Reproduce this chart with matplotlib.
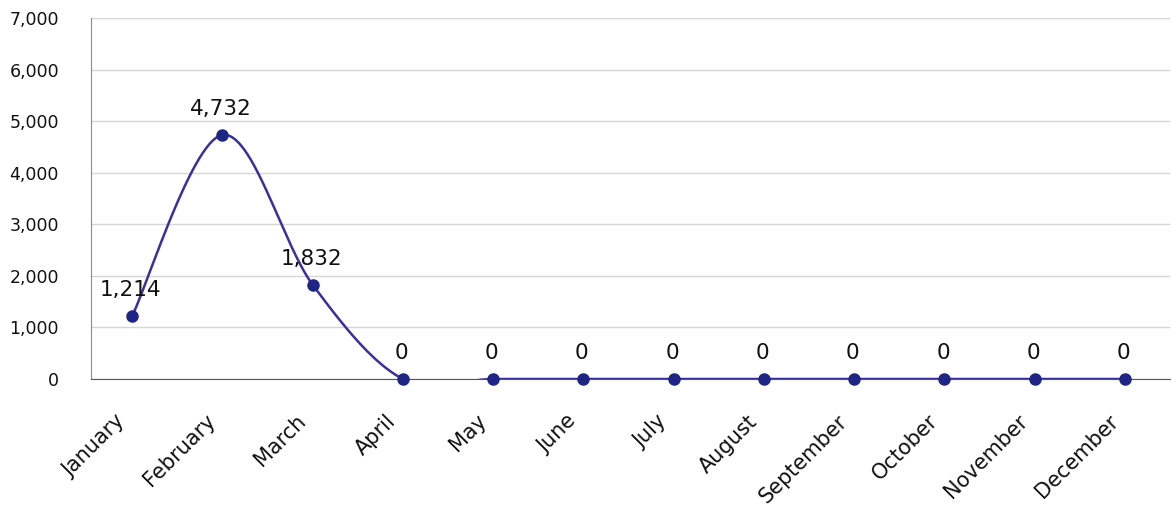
import numpy as np
import matplotlib
matplotlib.use("Agg")
import matplotlib.pyplot as plt
import matplotlib.transforms as mtransforms
from matplotlib.ticker import FuncFormatter, MultipleLocator

months = ["January", "February", "March", "April", "May", "June", "July",
          "August", "September", "October", "November", "December"]
values = [1214, 4732, 1832, 0, 0, 0, 0, 0, 0, 0, 0, 0]
label_texts = ["1,214", "4,732", "1,832", "0", "0", "0", "0", "0", "0", "0", "0", "0"]

plt.rcParams['font.family'] = ['DejaVu Sans']

fig = plt.figure(figsize=(11.72, 5.12), dpi=100)
ax = fig.add_axes([91/1172, 133/512, 1079/1172, 361/512])
XMIN, XMAX = -0.454, 11.5
YMIN, YMAX = 0, 7000
ax.set_xlim(XMIN, XMAX)
ax.set_ylim(YMIN, YMAX)

x = np.arange(len(months), dtype=float)
y = np.array(values, dtype=float)

# scale factors to make the spline in (approximate) screen space
sxf = 1079 / (XMAX - XMIN)
syf = 361 / (YMAX - YMIN)


def smooth2d(xs, ys, n=60):
    # Catmull-Rom (Bezier) spline in screen space (rendering only)
    P = np.column_stack([xs * sxf, ys * syf])
    N = len(P)
    out = []
    for i in range(N - 1):
        p0 = P[i - 1] if i > 0 else P[i]
        p1, p2 = P[i], P[i + 1]
        p3 = P[i + 2] if i + 2 < N else P[i + 1]
        c1 = p1 + (p2 - p0) / 6
        c2 = p2 - (p3 - p1) / 6
        t = np.linspace(0, 1, n, endpoint=False)[:, None]
        b = ((1 - t)**3) * p1 + 3 * ((1 - t)**2) * t * c1 + 3 * (1 - t) * t**2 * c2 + t**3 * p2
        out.append(b)
    out.append(P[-1:])
    B = np.vstack(out)
    return B[:, 0] / sxf, B[:, 1] / syf


cx, cy = smooth2d(x, y)
ax.plot(cx, cy, color='#3830a0', lw=1.8, zorder=3)
ax.plot(x, y, 'o', color='#1f2585', markersize=8, zorder=4, clip_on=False)

for xi, yi, t in zip(x, y, label_texts):
    ax.annotate(t, (xi, yi), xytext=(-1, 11.5), textcoords='offset points',
                ha='center', va='bottom', fontsize=15.5, color='#111111', zorder=5)

ax.yaxis.set_major_locator(MultipleLocator(1000))
ax.yaxis.set_major_formatter(FuncFormatter(lambda v, p: f"{int(v):,}"))
ax.grid(axis='y', color='#d6d6d6', lw=1)
ax.set_axisbelow(True)

ax.set_xticks(x)
ax.set_xticklabels(months, rotation=45, ha='right', va='top',
                   rotation_mode='anchor', fontsize=15, color='#111111')
ax.tick_params(axis='x', length=0, pad=23)
offset = mtransforms.ScaledTranslation(-17/100, 0, fig.dpi_scale_trans)
for lab in ax.get_xticklabels():
    lab.set_transform(lab.get_transform() + offset)
ax.tick_params(axis='y', length=0, pad=23, labelsize=12.5, labelcolor='#111111')

for s in ['top', 'right']:
    ax.spines[s].set_visible(False)
ax.spines['left'].set_color('#8a8a8a')
ax.spines['bottom'].set_color('#555555')

fig.savefig('out.png', dpi=100)
